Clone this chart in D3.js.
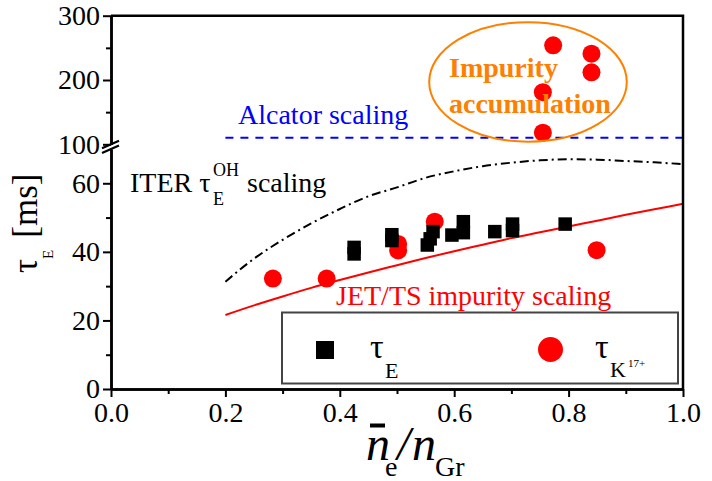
<!DOCTYPE html>
<html>
<head>
<meta charset="utf-8">
<script src="https://cdn.jsdelivr.net/npm/d3@7"></script>
<style>
  html, body { margin: 0; padding: 0; background: #fff; }
  svg { display: block; }
</style>
</head>
<body>
<svg id="chart" width="712" height="481"></svg>
<script>
// Energy confinement time τE and K17+ impurity confinement versus Greenwald fraction

const SERIF = "Liberation Serif";

// x-axis ticks
const xMajorTicks = [0.0, 0.2, 0.4, 0.6, 0.8, 1.0];
const xMinorTicks = [0.1, 0.3, 0.5, 0.7, 0.9];
// lower (0–70 ms) y-axis segment ticks
const yLowMajorTicks = [0, 20, 40, 60];
const yLowMinorTicks = [10, 30, 50];
// upper (100–300 ms) y-axis segment ticks
const yHighMajorTicks = [100, 200, 300];
const yHighMinorTicks = [150, 250];

// τE measurements (black squares)
const tauEX = [0.425, 0.425, 0.491, 0.491, 0.553, 0.558, 0.563, 0.596, 0.616, 0.616, 0.671, 0.702, 0.702, 0.794];
const tauEY = [41.3, 39.4, 45.0, 43.3, 42.0, 43.8, 45.9, 44.9, 48.8, 45.6, 45.9, 48.1, 46.2, 48.1];

// τK17+ measurements below the break (red circles)
const tauKLowX = [0.283, 0.377, 0.502, 0.502, 0.566, 0.849];
const tauKLowY = [32.2, 32.2, 42.3, 40.4, 48.8, 40.5];
// τK17+ measurements above the break (impurity accumulation)
const tauKHighX = [0.773, 0.840, 0.840, 0.755, 0.755];
const tauKHighY = [254, 241, 212, 181, 118];

// ITER τE^OH scaling curve
const iterX = [0.2, 0.25, 0.3, 0.35, 0.4, 0.45, 0.5, 0.55, 0.6, 0.65, 0.7, 0.75, 0.8, 0.85, 0.9, 0.95, 1.0];
const iterY = [31.3, 38.0, 43.5, 48.3, 52.5, 56.2, 58.8, 61.6, 63.5, 65.0, 66.0, 66.7, 67.0, 66.9, 66.5, 66.1, 65.6];

// JET/TS impurity scaling curve
const jetX = [0.2, 0.25, 0.3, 0.35, 0.4, 0.45, 0.5, 0.55, 0.6, 0.65, 0.7, 0.75, 0.8, 0.85, 0.9, 0.95, 1.0];
const jetY = [21.6, 24.4, 27.0, 29.5, 31.8, 34.0, 36.1, 38.2, 40.2, 42.1, 44.0, 45.7, 47.4, 49.1, 50.8, 52.4, 54.0];

// Alcator scaling level
const alcatorX = [0.2, 1.0];
const alcatorY = [110, 110];

// ellipse around the accumulation points: centre (x, ms) and half-widths
const accumCenter = [0.729, 197];
const accumRadii = [0.1727, 93];

const svg = d3.select("#chart");

const x = d3.scaleLinear().domain([0, 1]).range([111, 683]);
const yLow = d3.scaleLinear().domain([0, 70]).range([389, 149]);
const yHigh = d3.scaleLinear().domain([100, 300]).range([144.3, 15.7]);

const RED = "#ff0000";
const ORANGE = "#ff8000";
const BLUE = "#0000ff";

// ---- curves ----
const lineLow = d3.line().x(d => x(d[0])).y(d => yLow(d[1])).curve(d3.curveMonotoneX);
const lineHigh = d3.line().x(d => x(d[0])).y(d => yHigh(d[1]));

svg.append("path")
  .attr("d", lineLow(d3.zip(iterX, iterY)))
  .attr("fill", "none").attr("stroke", "#000").attr("stroke-width", 2)
  .attr("stroke-dasharray", "9,4,2,4");

svg.append("path")
  .attr("d", lineLow(d3.zip(jetX, jetY)))
  .attr("fill", "none").attr("stroke", RED).attr("stroke-width", 2);

svg.append("path")
  .attr("d", lineHigh(d3.zip(alcatorX, alcatorY)))
  .attr("fill", "none").attr("stroke", BLUE).attr("stroke-width", 2)
  .attr("stroke-dasharray", "8,7");

// ---- markers ----
const CIRCLE_R = 9;
const SQ = 13.5;

svg.append("g").selectAll("circle")
  .data(d3.zip(tauKLowX, tauKLowY)).join("circle")
  .attr("cx", d => x(d[0])).attr("cy", d => yLow(d[1]))
  .attr("r", CIRCLE_R).attr("fill", RED);

svg.append("g").selectAll("circle")
  .data(d3.zip(tauKHighX, tauKHighY)).join("circle")
  .attr("cx", d => x(d[0])).attr("cy", d => yHigh(d[1]))
  .attr("r", CIRCLE_R).attr("fill", RED);

svg.append("g").selectAll("rect")
  .data(d3.zip(tauEX, tauEY)).join("rect")
  .attr("x", d => x(d[0]) - SQ / 2).attr("y", d => yLow(d[1]) - SQ / 2)
  .attr("width", SQ).attr("height", SQ).attr("fill", "#000");

// ---- impurity accumulation ellipse ----
svg.append("ellipse")
  .attr("cx", x(accumCenter[0])).attr("cy", yHigh(accumCenter[1]))
  .attr("rx", x(accumRadii[0]) - x(0))
  .attr("ry", yHigh(100) - yHigh(100 + accumRadii[1]))
  .attr("fill", "none").attr("stroke", ORANGE).attr("stroke-width", 2);

const accumText = svg.append("text").attr("font-family", SERIF)
  .attr("fill", ORANGE).attr("font-weight", "bold").attr("font-size", 28);
accumText.append("tspan").attr("x", 449).attr("y", 77).text("Impurity");
accumText.append("tspan").attr("x", 449).attr("y", 113).text("accumulation");

// ---- axes ----
const fmt1 = d3.format(".1f");
const axisStyle = g => {
  g.attr("font-family", SERIF).attr("font-size", 28);
  g.selectAll("path.domain").attr("stroke", "#000").attr("stroke-width", 2.5);
  g.selectAll(".tick line").attr("stroke", "#000").attr("stroke-width", 2);
  g.selectAll(".tick text").attr("font-family", SERIF).attr("font-size", 28).attr("fill", "#000");
};

// x axis
svg.append("g").attr("transform", "translate(0,389)")
  .call(d3.axisBottom(x).tickValues(xMinorTicks).tickSize(5).tickSizeOuter(0).tickFormat(""))
  .call(axisStyle);
svg.append("g").attr("transform", "translate(0,389)")
  .call(d3.axisBottom(x).tickValues(xMajorTicks).tickSize(8).tickPadding(5).tickSizeOuter(0).tickFormat(fmt1))
  .call(axisStyle);

// y axis – lower segment
svg.append("g").attr("transform", "translate(111,0)")
  .call(d3.axisLeft(yLow).tickValues(yLowMinorTicks).tickSize(5).tickSizeOuter(0).tickFormat(""))
  .call(axisStyle);
svg.append("g").attr("transform", "translate(111,0)")
  .call(d3.axisLeft(yLow).tickValues(yLowMajorTicks).tickSize(8).tickPadding(3).tickSizeOuter(0))
  .call(axisStyle);

// y axis – upper segment
svg.append("g").attr("transform", "translate(111,0)")
  .call(d3.axisLeft(yHigh).tickValues(yHighMinorTicks).tickSize(5).tickSizeOuter(0).tickFormat(""))
  .call(axisStyle);
svg.append("g").attr("transform", "translate(111,0)")
  .call(d3.axisLeft(yHigh).tickValues(yHighMajorTicks).tickSize(8).tickPadding(3).tickSizeOuter(0))
  .call(axisStyle);

// top and right frame
svg.append("path")
  .attr("d", `M${x(0)},${yHigh(300)}H${x(1)}V${yLow(0)}`)
  .attr("fill", "none").attr("stroke", "#000").attr("stroke-width", 2.5);

// axis break marks
const breakG = svg.append("g").attr("stroke", "#000").attr("stroke-width", 2.2);
[yHigh(100), yLow(70)].forEach(yy => {
  breakG.append("line")
    .attr("x1", x(0) - 9).attr("y1", yy + 4)
    .attr("x2", x(0) + 8).attr("y2", yy - 3.5);
});

// ---- annotations ----
svg.append("text").attr("font-family", SERIF).attr("x", 238).attr("y", 124)
  .attr("font-size", 28).attr("fill", BLUE).text("Alcator scaling");

svg.append("text").attr("font-family", SERIF).attr("x", 336).attr("y", 305)
  .attr("font-size", 28).attr("fill", RED).text("JET/TS impurity scaling");

const iterText = svg.append("text").attr("font-family", SERIF).attr("font-size", 28).attr("fill", "#000");
iterText.append("tspan").attr("x", 130).attr("y", 192).text("ITER τ");
iterText.append("tspan").attr("x", 213).attr("y", 176).attr("font-size", 18).text("OH");
iterText.append("tspan").attr("x", 213).attr("y", 205).attr("font-size", 18).text("E");
iterText.append("tspan").attr("x", 247).attr("y", 192).text("scaling");

// ---- legend ----
const legend = svg.append("g").attr("font-family", SERIF);
legend.append("rect")
  .attr("x", 282).attr("y", 312.5).attr("width", 396).attr("height", 71)
  .attr("fill", "#fff").attr("stroke", "#444").attr("stroke-width", 2);
legend.append("rect")
  .attr("x", 316).attr("y", 341).attr("width", 18).attr("height", 18).attr("fill", "#000");
legend.append("circle")
  .attr("cx", 550.5).attr("cy", 349.5).attr("r", 12.5).attr("fill", RED);
const lt1 = legend.append("text").attr("font-family", SERIF).attr("fill", "#000");
lt1.append("tspan").attr("x", 370).attr("y", 358).attr("font-size", 34).text("τ");
lt1.append("tspan").attr("x", 385).attr("y", 378).attr("font-size", 22).text("E");
const lt2 = legend.append("text").attr("font-family", SERIF).attr("fill", "#000");
lt2.append("tspan").attr("x", 595).attr("y", 358).attr("font-size", 34).text("τ");
lt2.append("tspan").attr("x", 610).attr("y", 377).attr("font-size", 22).text("K");
lt2.append("tspan").attr("x", 628).attr("y", 367).attr("font-size", 11).text("17+");

// ---- axis titles ----
const yTitle = svg.append("text").attr("font-family", SERIF)
  .attr("transform", "translate(37,273) rotate(-90)").attr("fill", "#000");
yTitle.append("tspan").attr("font-size", 35).text("τ");
yTitle.append("tspan").attr("font-size", 15).attr("dy", 16).text("E");
yTitle.append("tspan").attr("font-size", 35).attr("dy", -16).attr("dx", 12).text("[ms]");

const xTitle = svg.append("g").attr("fill", "#000");
xTitle.append("rect").attr("x", 370).attr("y", 423.5).attr("width", 15).attr("height", 4);
const xt = xTitle.append("text").attr("font-family", SERIF);
xt.append("tspan").attr("x", 366).attr("y", 460).attr("font-size", 48).attr("font-style", "italic").text("n");
xt.append("tspan").attr("x", 385).attr("y", 476).attr("font-size", 28).text("e");
xt.append("tspan").attr("x", 397).attr("y", 460).attr("font-size", 48).attr("font-style", "italic").text("/");
xt.append("tspan").attr("x", 412).attr("y", 460).attr("font-size", 48).attr("font-style", "italic").text("n");
xt.append("tspan").attr("x", 435).attr("y", 476).attr("font-size", 28).text("Gr");
</script>
</body>
</html>
